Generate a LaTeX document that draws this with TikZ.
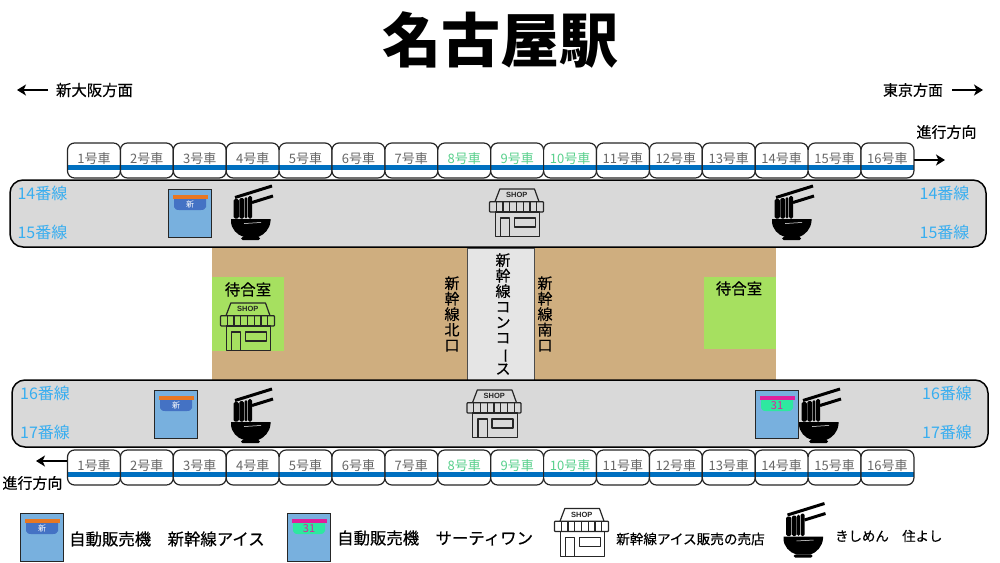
\documentclass[tikz,border=0pt]{standalone}
\usepackage{graphicx}
\usepackage{fontspec}
\usetikzlibrary{arrows.meta}
\setmainfont{Noto Sans CJK JP}
\newfontfamily\medfont[FakeBold=0.4]{Noto Sans CJK JP}
\newfontfamily\shopfont{Liberation Sans}
\definecolor{carstripe}{HTML}{0070C0}
\definecolor{cargray}{HTML}{666666}
\definecolor{cargreen}{HTML}{58D08C}
\definecolor{platgray}{HTML}{D9D9D9}
\definecolor{concourse}{HTML}{CFAE7F}
\definecolor{waitgreen}{HTML}{A6E060}
\definecolor{trackblue}{HTML}{38AEF0}
\definecolor{vendorblue}{HTML}{78B0DE}
\definecolor{cupblue}{HTML}{4472C4}
\definecolor{cupgreen}{HTML}{2EE8A0}
\definecolor{lidorange}{HTML}{E87722}
\definecolor{lidpink}{HTML}{E0209C}
\tikzset{
  carbox/.style={draw=black!85,line width=1.2pt,fill=white,rounded corners=7pt,
    minimum width=52.9pt,minimum height=35pt,inner sep=0pt,outer sep=0pt,
    font=\fontsize{13}{13}\selectfont,
    path picture={\fill[carstripe,sharp corners] ([yshift=-4.5pt]path picture bounding box.west)
      rectangle ([yshift=-9.5pt]path picture bounding box.east);}},
  platform/.style={draw=black,line width=1.5pt,fill=platgray,rounded corners=13pt,
    minimum width=#1,minimum height=67pt,inner sep=0pt},
  tracklabel/.style={text=trackblue,font=\fontsize{16}{16}\selectfont,inner sep=0pt},
  plainlabel/.style={font=\medfont\fontsize{#1}{#1}\selectfont,inner sep=0pt},
  vlabel/.style={font=\medfont\fontsize{15}{15.5}\selectfont,align=center,inner sep=0pt},
  waitbox/.style={fill=waitgreen,inner sep=0pt,outer sep=0pt,minimum width=72pt,minimum height=#1},
  dirarrow/.style={->,line width=2.5pt,>={Stealth[length=9pt,width=11pt,inset=2.5pt]}},
  pics/vendor/.style n args={4}{code={
    \fill[vendorblue] (0,0) rectangle (43,48);
    \draw[black!85,line width=.9pt] (0,0) rectangle (43,48);
    \fill[#1] (6,9) -- (38,9) -- (38,18) .. controls (37,21) and (35,21) .. (33,21)
      -- (11,21) .. controls (9,21) and (7,21) .. (6,18) -- cycle;
    \fill[#2] (4.5,5.7) rectangle (39.5,9.7);
    \node[text=#3,font=\fontsize{#4}{#4}\selectfont,inner sep=0pt] (-mark) at (22,15.5)
      {\ifnum#4=8 新\else 31\fi};
  }},
  pics/shop/.style={code={
    \begin{scope}[line width=1.2pt,draw=black!85,line join=round]
    \draw (5.7,23) rectangle (50.3,47.7);
    \draw (11,47.7) -- (11,29) -- (20.3,29) -- (20.3,47.7);
    \draw (25,29) rectangle (46,38);
    \draw (5.5,12.7) -- (10.3,0) -- (45,0) -- (49.5,12.7);
    \draw[rounded corners=.8pt] (0,12.7) rectangle (54,23);
    \foreach \xx in {6.75,13.5,...,47.5}
      \draw (\xx,12.7) -- (\xx,23);
    \end{scope}
    \node[font=\shopfont\bfseries\fontsize{7.5}{7.5}\selectfont,inner sep=0pt,text=black!85] (-sign) at (27.3,6) {SHOP};
  }},
  pics/noodle/.style={code={
    \fill[black] (1,34) -- (40.5,34) -- (40.5,36) .. controls (40,44) and (34,50) .. (28,52)
      -- (14,52) .. controls (7,50) and (1,44) .. (1,36) -- cycle;
    \fill[black,rounded corners=1.5pt] (11,52) rectangle (30,55);
    \draw[white,line width=.5pt] (14,38.5) -- (31,37.5);
    \foreach \xa/\xb/\ytop in {3.5/8.8/14,9.4/14/13,14.6/17.4/12,18/22/11}
      \fill[black,rounded corners=1.5pt] (\xa,33.5) rectangle (\xb,\ytop);
    \draw[black,line width=3pt] (5,12.5) -- (42,1);
    \draw[black,line width=3pt] (22,17.5) -- (43,11);
  }}
}
\begin{document}
\begin{tikzpicture}[x=1pt,y=-1pt]
  \useasboundingbox (0,0) rectangle (1000,562);
  \node (title)[font=\bfseries\fontsize{59}{59}\selectfont,inner sep=0pt] at (500,40) {名古屋駅};

  % direction labels
  \node (osaka)[plainlabel=15.4] at (94.5,90) {新大阪方面};
  \node (tokyo)[plainlabel=15] at (913,90) {東京方面};
  \coordinate (osakaend) at (17,90);
  \coordinate (osakastart) at (48,90);
  \coordinate (tokyostart) at (952,90);
  \coordinate (tokyoend) at (983,90);
  \draw[dirarrow] (osakastart) -- (osakaend);
  \draw[dirarrow] (tokyostart) -- (tokyoend);

  % concourse
  \fill[concourse] (212,248) rectangle (776,380);
  \node (waitn)[waitbox=74pt] at (248,314) {};
  \node (waits)[waitbox=72pt] at (739.5,313) {};
  \node (waitnlabel)[plainlabel=15.5] at (248,289.5) {待合室};
  \node (waitslabel)[plainlabel=15.5] at (739,288.5) {待合室};
  \node (hall)[draw=black!70,line width=.5pt,fill=black!10,minimum width=67pt,minimum height=132pt,inner sep=0pt] at (500.5,314) {};
  \node (hallname)[vlabel] at (503,314) {新\\幹\\線\\コ\\ン\\コ\\\rotatebox[origin=c]{-90}{ー}\\ス};
  \node (northgate)[vlabel] at (452,314) {新\\幹\\線\\北\\口};
  \node (southgate)[vlabel] at (545,314) {新\\幹\\線\\南\\口};

  % platforms
  \node (plattop)[platform=976pt] at (498,213.5) {};
  \node (platbot)[platform=976pt] at (500,413.5) {};
  \node (t14)[tracklabel] at (42.5,193) {14番線};
  \node (t15)[tracklabel] at (42.5,232) {15番線};
  \node (t14r)[tracklabel] at (944.5,193) {14番線};
  \node (t15r)[tracklabel] at (944.5,232) {15番線};
  \node (t16)[tracklabel] at (45,393) {16番線};
  \node (t17)[tracklabel] at (45,432) {17番線};
  \node (t16r)[tracklabel] at (947,393) {16番線};
  \node (t17r)[tracklabel] at (947,432) {17番線};

  % cars
  \foreach \n/\col in {1/cargray,2/cargray,3/cargray,4/cargray,5/cargray,6/cargray,7/cargray,8/cargreen,
      9/cargreen,10/cargreen,11/cargray,12/cargray,13/cargray,14/cargray,15/cargray,16/cargray} {
    \node (cartop\n)[carbox,text=\col] at ({41.05+52.9*\n},160.5) {\raisebox{5.5pt}{\n 号車}};
    \node (carbot\n)[carbox,text=\col] at ({41.05+52.9*\n},467.5) {\raisebox{5.5pt}{\n 号車}};
  }
  \coordinate (runtopstart) at (914,160);
  \coordinate (runtopend) at (945,160);
  \coordinate (runbotstart) at (67,461);
  \coordinate (runbotend) at (36,461);
  \draw[dirarrow] (runtopstart) -- (runtopend);
  \draw[dirarrow] (runbotstart) -- (runbotend);
  \node (runtop)[plainlabel=15] at (946.5,132) {進行方向};
  \node (runbot)[plainlabel=15] at (32.5,483) {進行方向};

  % shops on the platforms
  \pic (vend1) at (168,189) {vendor={cupblue}{lidorange}{white}{8}};
  \pic (vend2) at (154,390) {vendor={cupblue}{lidorange}{white}{8}};
  \pic (vend3) at (755,390) {vendor={cupgreen}{lidpink}{lidpink}{11}};
  \pic (nood1) at (230,185) {noodle};
  \pic (nood2) at (771,185) {noodle};
  \pic (nood3) at (230,388) {noodle};
  \pic (nood4) at (798,388) {noodle};
  \pic (shop1) at (489.5,189) {shop};
  \pic (shop2) at (467,390) {shop};
  \pic (shop3) at (220.5,303) {shop};

  % legend
  \pic (keyvend1) at (20,513) {vendor={cupblue}{lidorange}{white}{8}};
  \pic (keyvend2) at (287,513) {vendor={cupgreen}{lidpink}{lidpink}{11}};
  \pic (keyshop) at (554.5,508.5) {shop};
  \pic (keynood) at (782.5,502.5) {noodle};
  \node (keytext1)[plainlabel=16.4,anchor=west] at (69,539) {自動販売機　新幹線アイス};
  \node (keytext2)[plainlabel=16.4,anchor=west] at (337,538) {自動販売機　サーティワン};
  \node (keytext3)[plainlabel=13.6,anchor=west] at (616,539) {新幹線アイス販売の売店};
  \node (keytext4)[plainlabel=13.4,anchor=west] at (835,536) {きしめん　住よし};
\end{tikzpicture}
\end{document}
